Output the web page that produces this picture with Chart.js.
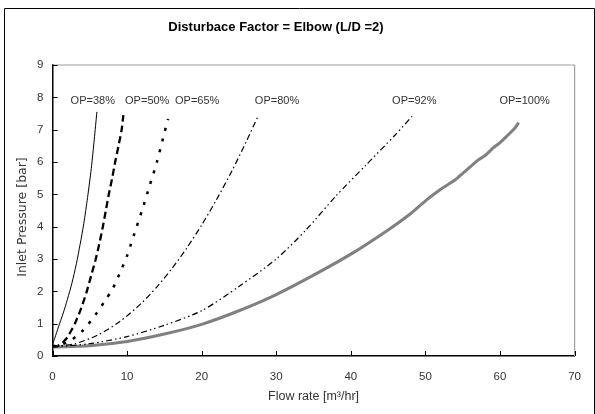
<!DOCTYPE html>
<html>
<head>
<meta charset="utf-8">
<script src="https://cdn.jsdelivr.net/npm/chart.js@4/dist/chart.umd.min.js"></script>
<style>
  html, body { margin: 0; padding: 0; background: #fff; }
  #wrap { width: 595px; height: 414px; position: relative; }
</style>
</head>
<body>
<div id="wrap"><canvas id="c" width="595" height="414"></canvas></div>
<script>
const titleText = "Disturbace Factor = Elbow (L/D =2)";
const xAxisTitle = "Flow rate [m\u00B3/hr]";
const yAxisTitle = "Inlet Pressure [bar]";
const xTicks = [0, 10, 20, 30, 40, 50, 60, 70];
const yTicks = [0, 1, 2, 3, 4, 5, 6, 7, 8, 9];
const seriesNames = ["OP=38%", "OP=50%", "OP=65%", "OP=80%", "OP=92%", "OP=100%"];

const op38Flow = [0, 0.3, 0.8, 1.4, 2.0, 2.6, 3.2, 3.7, 4.2, 4.7, 5.2, 5.6, 5.95];
const op38Pres = [0.35, 0.55, 0.9, 1.3, 1.75, 2.25, 2.85, 3.45, 4.1, 4.9, 5.8, 6.7, 7.55];

const op50Flow = [0, 0.5, 1.0, 1.5, 2.0, 2.5, 3.0, 3.8, 4.6, 5.2, 5.8, 6.3, 6.75, 7.15, 7.55, 8.0, 8.4, 8.85, 9.27, 9.5];
const op50Pres = [0.3, 0.3, 0.35, 0.45, 0.58, 0.78, 1.0, 1.45, 2.0, 2.5, 3.0, 3.5, 4.0, 4.5, 5.0, 5.5, 6.0, 6.5, 7.0, 7.45];

const op65Flow = [0, 2, 4, 6, 7, 8, 9, 10, 11, 12, 13, 14, 15, 15.5];
const op65Pres = [0.3, 0.42, 0.77, 1.35, 1.7, 2.05, 2.55, 3.1, 3.8, 4.5, 5.25, 6.0, 6.9, 7.33];

const op80Flow = [0, 3, 6, 9, 12, 14, 16, 18, 20, 22, 24, 26, 27.5];
const op80Pres = [0.3, 0.38, 0.64, 1.06, 1.65, 2.14, 2.7, 3.34, 4.05, 4.84, 5.7, 6.64, 7.39];

const op92Flow = [0, 5, 10, 15, 20, 25, 30, 34, 38, 42, 46, 48.2];
const op92Pres = [0.28, 0.38, 0.6, 0.95, 1.4, 2.15, 3.0, 3.9, 4.95, 5.9, 6.85, 7.41];

const op100Flow = [0, 5, 10, 15, 20, 25, 30, 35, 40, 45, 48, 50, 52, 53, 54, 55, 56, 57, 58, 59, 60, 61, 62, 62.5];
const op100Pres = [0.28, 0.32, 0.45, 0.68, 0.98, 1.4, 1.9, 2.5, 3.15, 3.9, 4.4, 4.8, 5.15, 5.3, 5.45, 5.65, 5.85, 6.05, 6.2, 6.42, 6.6, 6.82, 7.05, 7.22];

function pts(xs, ys) { return xs.map((x, i) => ({ x: x, y: ys[i] })); }

const FONT = "'Liberation Sans', Arial, sans-serif";

const framePlugin = {
  id: 'frame',
  beforeDraw(chart) {
    const ctx = chart.ctx;
    ctx.save();
    ctx.fillStyle = '#fff';
    ctx.fillRect(0, 0, chart.width, chart.height);
    ctx.strokeStyle = '#000';
    ctx.lineWidth = 1;
    ctx.beginPath();
    ctx.moveTo(4.5, 420);
    ctx.lineTo(4.5, 8.5);
    ctx.lineTo(594.5, 8.5);
    ctx.lineTo(594.5, 420);
    ctx.stroke();
    ctx.restore();
  },
  afterDraw(chart) {
    const ctx = chart.ctx;
    const a = chart.chartArea;
    const xs = chart.scales.x, ys = chart.scales.y;
    ctx.save();
    // gray top/right border of plot area
    ctx.strokeStyle = '#a0a0a0';
    ctx.lineWidth = 1.2;
    ctx.beginPath();
    ctx.moveTo(a.left, a.top);
    ctx.lineTo(a.right, a.top);
    ctx.lineTo(a.right, a.bottom);
    ctx.stroke();
    // inward tick marks
    ctx.strokeStyle = '#000';
    ctx.lineWidth = 1;
    ctx.beginPath();
    xTicks.forEach(v => {
      const px = Math.round(xs.getPixelForValue(v)) + 0.5;
      ctx.moveTo(px, a.bottom);
      ctx.lineTo(px, a.bottom - 5);
    });
    yTicks.forEach(v => {
      const py = Math.round(ys.getPixelForValue(v)) + 0.5;
      ctx.moveTo(a.left, py);
      ctx.lineTo(a.left + 5, py);
    });
    ctx.stroke();
    // curve labels
    const opts = chart.options.plugins.frame;
    ctx.fillStyle = '#333';
    ctx.font = '11px ' + FONT;
    ctx.textAlign = 'center';
    ctx.textBaseline = 'middle';
    opts.labels.forEach((lb, i) => {
      ctx.fillText(seriesNames[i], xs.getPixelForValue(lb[0]), ys.getPixelForValue(lb[1]));
    });
    // chart title
    ctx.fillStyle = '#000';
    ctx.font = 'bold 13px ' + FONT;
    ctx.fillText(titleText, 276, 27);
    // x axis title
    ctx.fillStyle = '#333';
    ctx.font = '12.5px ' + FONT;
    ctx.fillText(xAxisTitle, (a.left + a.right) / 2, 397);
    // y axis title
    ctx.translate(22.5, 217);
    ctx.rotate(-Math.PI / 2);
    ctx.font = "12.5px 'DejaVu Sans', sans-serif";
    ctx.fillText(yAxisTitle, 0, 0);
    ctx.restore();
  }
};

const ds = (name, data, color, width, dash) => ({
  label: name, data: data, showLine: true, borderColor: color, backgroundColor: color,
  borderWidth: width, borderDash: dash, pointRadius: 0, tension: 0.25, fill: false
});

new Chart(document.getElementById('c'), {
  type: 'scatter',
  data: {
    datasets: [
      ds(seriesNames[0], pts(op38Flow, op38Pres), '#000', 1, []),
      ds(seriesNames[1], pts(op50Flow, op50Pres), '#000', 2.3, [7, 4]),
      ds(seriesNames[2], pts(op65Flow, op65Pres), '#000', 2.5, [3, 8]),
      ds(seriesNames[3], pts(op80Flow, op80Pres), '#000', 1.2, [6, 3, 1.5, 3]),
      ds(seriesNames[4], pts(op92Flow, op92Pres), '#000', 1.2, [6, 3, 1.5, 3, 1.5, 3]),
      ds(seriesNames[5], pts(op100Flow, op100Pres), '#808080', 3, [])
    ]
  },
  options: {
    responsive: false,
    animation: false,
    devicePixelRatio: 1,
    layout: { padding: { left: 4, right: 15, top: 65, bottom: 0 } },
    plugins: {
      legend: { display: false },
      tooltip: { enabled: false },
      title: { display: false },
      frame: {
        labels: [[5.4, 7.9], [12.7, 7.9], [19.4, 7.9], [30.1, 7.9], [48.5, 7.9], [63.3, 7.9]]
      }
    },
    scales: {
      x: {
        type: 'linear', min: 0, max: 70,
        afterBuildTicks: s => { s.ticks = xTicks.map(v => ({ value: v })); },
        afterFit: s => { s.height = 58; },
        grid: { display: false, drawTicks: false },
        border: { display: true, color: '#000', width: 1.5 },
        ticks: { color: '#333', font: { family: FONT, size: 11.5 }, padding: 14, maxRotation: 0 },
        title: { display: false }
      },
      y: {
        type: 'linear', min: 0, max: 9,
        afterBuildTicks: s => { s.ticks = yTicks.map(v => ({ value: v })); },
        afterFit: s => { s.width = 48.5; },
        grid: { display: false, drawTicks: false },
        border: { display: true, color: '#000', width: 1.5 },
        ticks: { color: '#333', font: { family: FONT, size: 11.5 }, padding: 9 },
        title: { display: false }
      }
    }
  },
  plugins: [framePlugin]
});
</script>
</body>
</html>
